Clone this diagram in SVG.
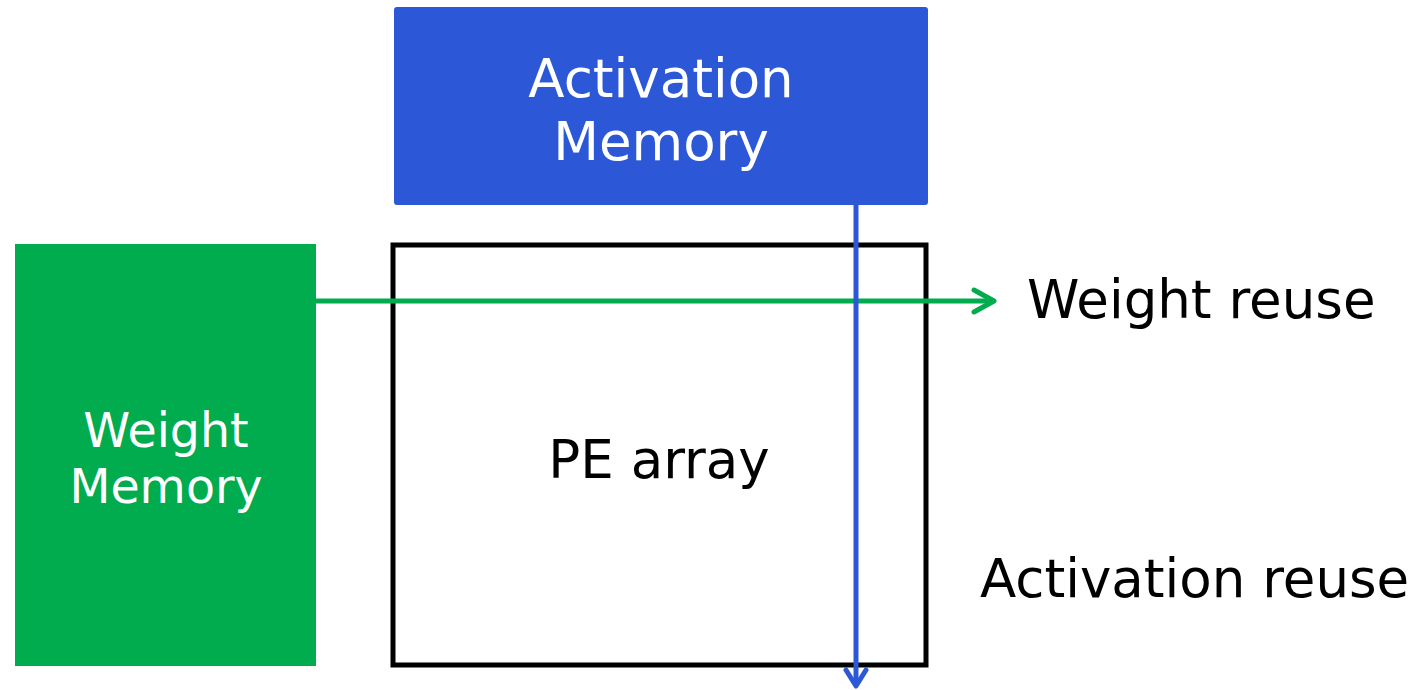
<svg xmlns="http://www.w3.org/2000/svg" width="1415" height="690" viewBox="0 0 1415 690">
<style>
text{font-family:"DejaVu Sans",Verdana,sans-serif;font-size:53px}
.w{fill:#fff}
.k{fill:#000}
.s{font-size:47.5px}
</style>
<defs>
<marker id="ag" markerWidth="28" markerHeight="28" refX="24" refY="14" orient="auto" markerUnits="userSpaceOnUse" viewBox="0 0 28 28">
<path d="M4,3 L24,14 L4,25" fill="none" stroke="#00AC4E" stroke-width="5" stroke-linecap="round" stroke-linejoin="round"/>
</marker>
</defs>
<rect width="1415" height="690" fill="#fff"/>
<g id="activation-memory">
<rect x="394" y="7" width="534" height="198" rx="3" fill="#2C58D8"/>
<text class="w" x="661" y="97" text-anchor="middle">Activation</text>
<text class="w" x="661" y="160" text-anchor="middle">Memory</text>
</g>
<g id="weight-memory">
<rect x="15" y="244" width="301" height="422" fill="#00AC4E"/>
<text class="w s" x="166" y="447" text-anchor="middle">Weight</text>
<text class="w s" x="166" y="503" text-anchor="middle">Memory</text>
</g>
<g id="pe-array">
<rect x="393" y="245" width="533" height="420" fill="none" stroke="#000" stroke-width="5"/>
<text class="k" x="659" y="478" text-anchor="middle">PE array</text>
</g>
<g id="connectors">
<line x1="316" y1="301" x2="994" y2="301" stroke="#00AC4E" stroke-width="5" marker-end="url(#ag)"/>
<line x1="856" y1="205" x2="856" y2="685" stroke="#2C58D8" stroke-width="5"/>
<path d="M846,670 L856,686 L866,670" fill="none" stroke="#2C58D8" stroke-width="5" stroke-linecap="round" stroke-linejoin="round"/>
</g>
<g id="labels">
<text class="k" x="1027" y="318">Weight reuse</text>
<text class="k" x="980" y="597">Activation reuse</text>
</g>
</svg>
